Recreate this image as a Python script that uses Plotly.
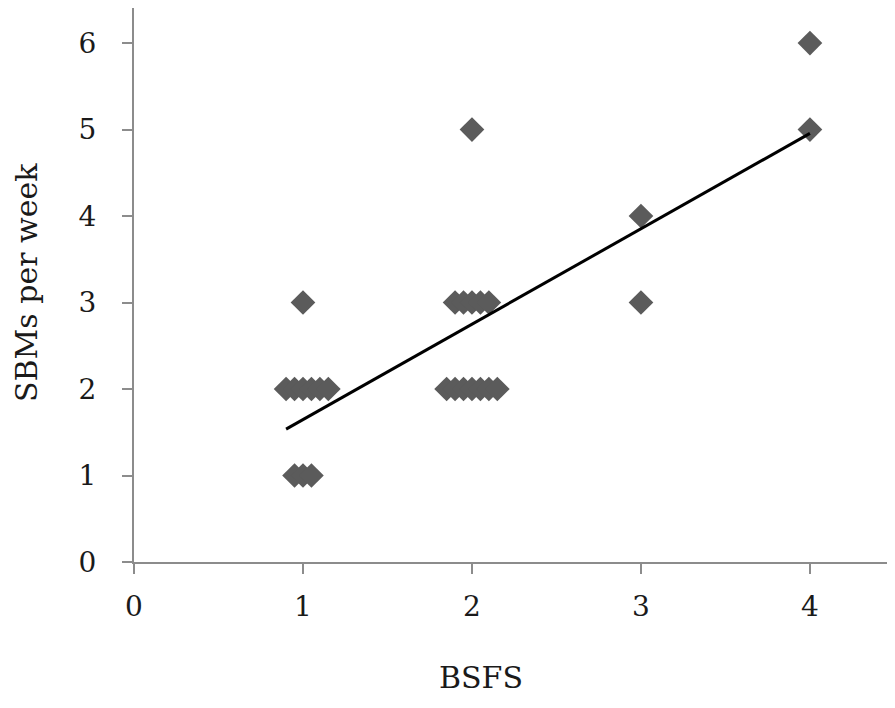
import numpy as np
import plotly.graph_objects as go

# jittered BSFS values and SBMs per week
bsfs = [1.0,
        0.9, 0.95, 1.0, 1.05, 1.1, 1.15,
        0.95, 1.0, 1.05,
        2.0,
        1.9, 1.95, 2.0, 2.05, 2.1,
        1.85, 1.9, 1.95, 2.0, 2.05, 2.1, 2.15,
        3.0, 3.0,
        4.0, 4.0]
sbms = [3,
        2, 2, 2, 2, 2, 2,
        1, 1, 1,
        5,
        3, 3, 3, 3, 3,
        2, 2, 2, 2, 2, 2, 2,
        4, 3,
        6, 5]

x_ticks = [0, 1, 2, 3, 4]
y_ticks = [0, 1, 2, 3, 4, 5, 6]

# linear trend line
slope, intercept = np.polyfit(bsfs, sbms, 1)
x_fit = np.array([min(bsfs), max(bsfs)])
y_fit = slope * x_fit + intercept

font_family = "DejaVu Serif"
axis_col = "#8c8c8c"

# page has an 8px body margin, so the figure is a bit smaller than the window
W, H = 879, 692
L, T, B = 126, 0, 138
pw, ph = W - L, H - T - B


def to_paper(px, py):
    # page pixel -> paper coords
    return (px - 8 - L) / pw, (H - B - (py - 8)) / ph


fig = go.Figure()
fig.add_trace(go.Scatter(
    x=bsfs, y=sbms, mode="markers",
    marker=dict(symbol="diamond", size=19, color="#5b5b5b", line=dict(width=0)),
    showlegend=False,
))
fig.add_trace(go.Scatter(
    x=x_fit, y=y_fit, mode="lines",
    line=dict(color="black", width=3),
    showlegend=False,
))

bx, by = to_paper(481, 677)
tx, ty = to_paper(26, 282)

fig.update_layout(
    width=W, height=H,
    margin=dict(l=L, r=0, t=T, b=B),
    paper_bgcolor="white", plot_bgcolor="white",
    font=dict(family=font_family, size=28, color="#1a1a1a"),
    xaxis=dict(
        range=[0, 4.456], tickvals=x_ticks, showgrid=False, zeroline=False,
        showline=True, linecolor=axis_col, linewidth=2,
        ticks="outside", ticklen=10, tickwidth=2, tickcolor=axis_col,
        ticklabelstandoff=8,
    ),
    yaxis=dict(
        range=[0, 6.405], tickvals=y_ticks, showgrid=False, zeroline=False,
        showline=True, linecolor=axis_col, linewidth=2,
        ticks="outside", ticklen=10, tickwidth=2, tickcolor=axis_col,
        ticklabelstandoff=20,
    ),
    annotations=[
        dict(text="BSFS", x=bx, y=by, xref="paper", yref="paper",
             xanchor="center", yanchor="middle",
             showarrow=False, font=dict(size=30)),
        dict(text="SBMs per week", textangle=-90, x=tx, y=ty,
             xref="paper", yref="paper", xanchor="center", yanchor="middle",
             showarrow=False, font=dict(size=30)),
    ],
)

fig.write_html("out.html")
